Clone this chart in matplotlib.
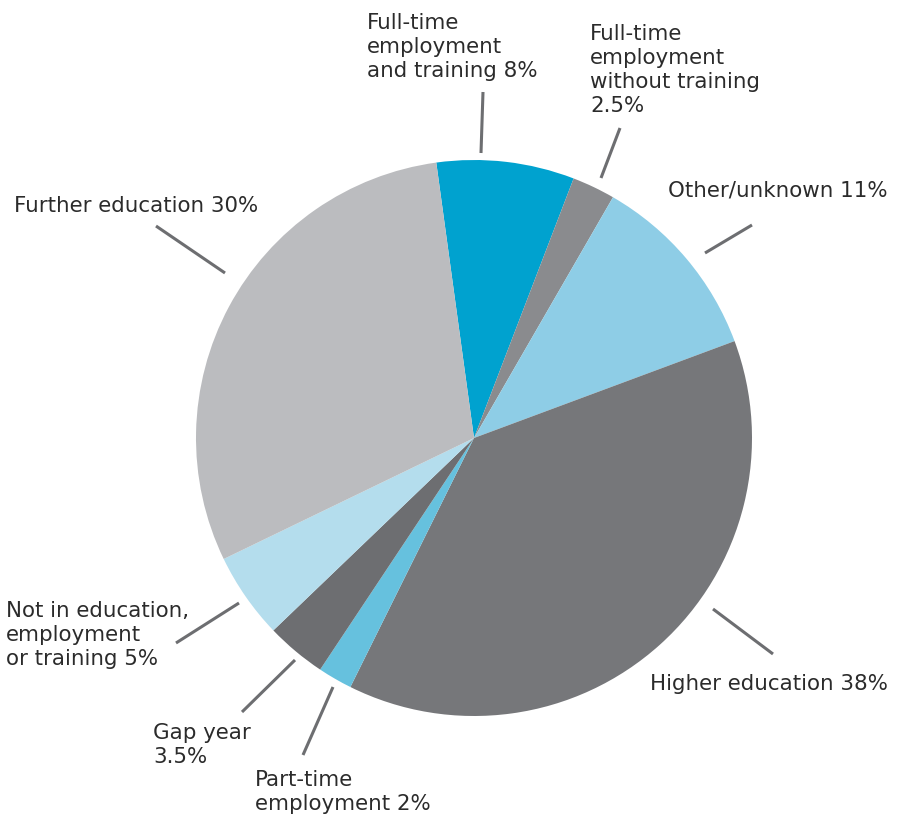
import matplotlib.pyplot as plt

# slices in drawing order (clockwise from the top)
labels = [
    "Full-time\nemployment\nand training 8%",
    "Full-time\nemployment\nwithout training\n2.5%",
    "Other/unknown 11%",
    "Higher education 38%",
    "Part-time\nemployment 2%",
    "Gap year\n3.5%",
    "Not in education,\nemployment\nor training 5%",
    "Further education 30%",
]
shares = [8, 2.5, 11, 38, 2, 3.5, 5, 30]
colors = ["#00a2cf", "#8a8b8e", "#8ecde6", "#76777a",
          "#66c1de", "#6d6e71", "#b4dded", "#bbbcbf"]

# label placement, in image pixels (x left, y baseline of last line)
label_pos = [(367, 77), (590, 112), (668, 196), (650, 690),
             (255, 810), (153, 763), (6, 665), (14, 212)]
# leader lines, in image pixels
leaders = [((483, 92), (481, 153)), ((620, 128), (601, 178)),
           ((752, 225), (705, 253)), ((713, 609), (773, 654)),
           ((333, 687), (303, 755)), ((295, 660), (242, 712)),
           ((239, 603), (176, 643)), ((156, 226), (225, 273))]

W, H = 898, 816
fig = plt.figure(figsize=(W / 100, H / 100), dpi=100)
ax = fig.add_axes([0, 0, 1, 1])

ax.pie(shares, colors=colors, startangle=97.8, counterclock=False,
       center=(474, H - 438), radius=278,
       wedgeprops={"linewidth": 0}, frame=True)
ax.set_xlim(0, W)
ax.set_ylim(0, H)
ax.set_aspect("equal")
ax.axis("off")

for (x0, y0), (x1, y1) in leaders:
    ax.plot([x0, x1], [H - y0, H - y1], color="#6d6e71", lw=2.2,
            solid_capstyle="butt")

for text, (x, y) in zip(labels, label_pos):
    ax.text(x, H - y, text, ha="left", va="baseline", fontsize=15.4,
            color="#2b2b2b", linespacing=1.26, family="DejaVu Sans")

fig.savefig("out.png", dpi=100)
